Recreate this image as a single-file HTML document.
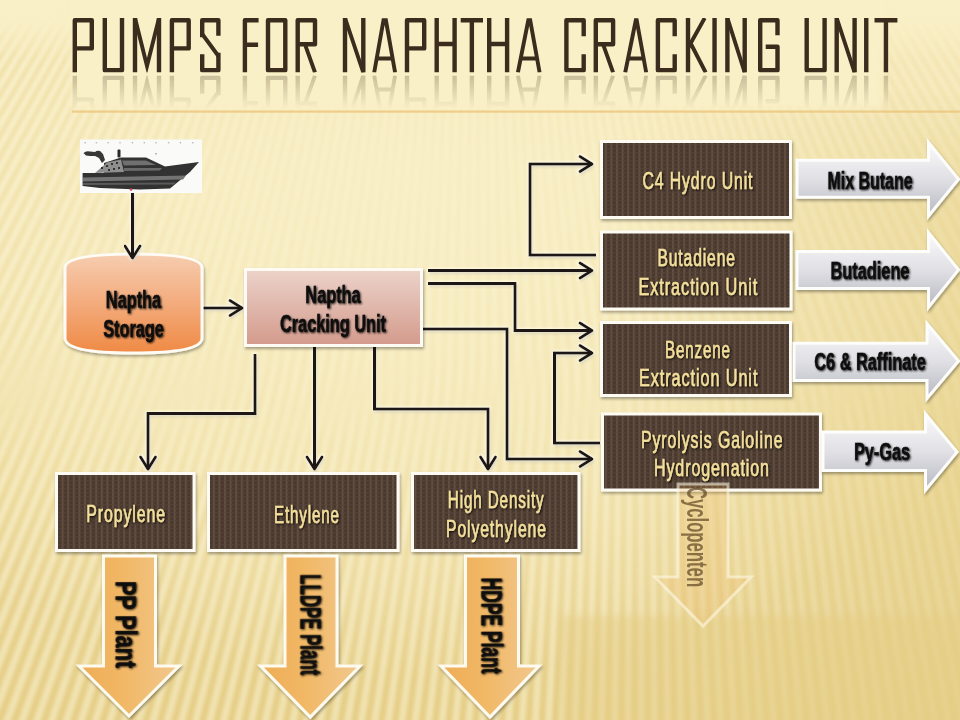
<!DOCTYPE html>
<html><head><meta charset="utf-8"><style>
html,body{margin:0;padding:0;width:960px;height:720px;overflow:hidden}
body{position:relative;background:#f3e4b0}
#bg{position:absolute;left:0;top:0;width:960px;height:720px;background:linear-gradient(to bottom, #f8ecbf 0px, #f3e4b0 250px, #eedc9f 450px, #ead697 600px, #e8d28e 720px)}
#rays{position:absolute;left:-10px;top:-10px;width:980px;height:740px;filter:blur(1.8px);
background:repeating-conic-gradient(from 0deg at 490px -690px, rgba(255,252,230,0.5) 0deg, rgba(205,165,55,0.18) 0.31deg, rgba(255,252,230,0.5) 0.62deg);
-webkit-mask-image:linear-gradient(to bottom, #000 0px, #000 340px, transparent 470px);mask-image:linear-gradient(to bottom, #000 0px, #000 340px, transparent 470px)}
#rays2{position:absolute;left:-10px;top:-10px;width:980px;height:740px;filter:blur(1.8px);
background:repeating-conic-gradient(from 0deg at 650px -990px, rgba(255,252,230,0.5) 0deg, rgba(205,165,55,0.18) 0.22deg, rgba(255,252,230,0.5) 0.44deg);
-webkit-mask-image:linear-gradient(to bottom, transparent 340px, #000 470px);mask-image:linear-gradient(to bottom, transparent 340px, #000 470px)}
#raysw{position:absolute;left:0;top:0;width:960px;height:720px;overflow:hidden;-webkit-mask-image:linear-gradient(to right, #000 0px, #000 560px, rgba(0,0,0,0.5) 900px);mask-image:linear-gradient(to right, #000 0px, #000 560px, rgba(0,0,0,0.5) 900px)}
#light{position:absolute;left:0;top:0;width:960px;height:720px;background:
radial-gradient(ellipse 600px 360px at 400px 320px, rgba(250,241,202,0.7) 0%, rgba(250,241,202,0.5) 50%, rgba(250,241,202,0) 100%),
radial-gradient(ellipse 420px 190px at 420px 170px, rgba(250,240,199,0.6) 0%, rgba(250,240,199,0.35) 50%, rgba(250,240,199,0) 100%),
linear-gradient(to bottom, rgba(250,240,199,1) 0px, rgba(250,240,199,0.9) 20px, rgba(250,240,199,0) 60px)}
#rdark{position:absolute;left:0;top:0;width:960px;height:720px;background:linear-gradient(to right, rgba(226,202,125,0) 620px, rgba(226,202,125,0.35) 960px);
-webkit-mask-image:linear-gradient(to bottom, transparent 90px, #000 200px);mask-image:linear-gradient(to bottom, transparent 90px, #000 200px)}
#bot{position:absolute;left:560px;top:616px;width:420px;height:120px;background:rgba(228,204,130,0.45);filter:blur(3px)}
#tbox{position:absolute;left:72px;top:-40px;width:812px;height:150px;background:rgba(250,240,199,0.97);filter:blur(5px)}
svg{position:absolute;left:0;top:0}
text{font-family:"Liberation Sans",sans-serif;font-weight:bold;font-size:24px;text-anchor:middle}
.yt text{fill:#f4e09c;font-weight:normal;stroke:#f4e09c;stroke-width:0.55px}
.bk text{fill:#0a0a0a;stroke:#0a0a0a;stroke-width:0.35px}
.cy{fill:#5e4522}
.rt{font-size:28.8px}
</style></head><body><div id="bg"></div><div id="raysw"><div id="rays"></div><div id="rays2"></div></div><div id="light"></div><div id="rdark"></div><div id="tbox"></div><div id="bot"></div>
<svg width="960" height="720" viewBox="0 0 960 720">
<defs><filter id="lsh" x="-5%" y="-5%" width="115%" height="115%">
<feMorphology in="SourceAlpha" operator="dilate" radius="1.2" result="d"/>
<feGaussianBlur in="d" stdDeviation="1" result="db"/>
<feFlood flood-color="#fffdf0" flood-opacity="0.75"/><feComposite in2="db" operator="in" result="glow"/>
<feGaussianBlur in="SourceAlpha" stdDeviation="1.2"/><feOffset dx="1" dy="2"/>
<feComponentTransfer result="sh"><feFuncA type="linear" slope="0.22"/></feComponentTransfer>
<feMerge><feMergeNode in="glow"/><feMergeNode in="sh"/><feMergeNode in="SourceGraphic"/></feMerge></filter></defs>
<defs>
<filter id="sblur" x="-5%" y="-10%" width="110%" height="120%"><feGaussianBlur stdDeviation="0.55"/></filter>
<clipPath id="tclip"><rect x="0" y="18" width="960" height="54.5"/></clipPath>
<pattern id="tex" width="5.6" height="4" patternUnits="userSpaceOnUse">
<rect width="5.6" height="4" fill="#4a382d"/>
<rect x="0" y="0" width="2" height="4" fill="#634f41"/>
<rect x="0" y="0" width="5.6" height="1.2" fill="#56443a" opacity="0.7"/>
</pattern>
<linearGradient id="stor" x1="0" y1="0" x2="0" y2="1">
<stop offset="0" stop-color="#f6cdb0"/><stop offset="0.5" stop-color="#f3ab7c"/><stop offset="1" stop-color="#ef8a45"/>
</linearGradient>
<linearGradient id="crk" x1="0" y1="0" x2="0" y2="1">
<stop offset="0" stop-color="#ecd3ca"/><stop offset="1" stop-color="#d39a8b"/>
</linearGradient>
<linearGradient id="grey" x1="0" y1="0" x2="0" y2="1">
<stop offset="0" stop-color="#fbfbfb"/><stop offset="0.5" stop-color="#e0e0e5"/><stop offset="1" stop-color="#b8b8c2"/>
</linearGradient>
<linearGradient id="orng" x1="0" y1="0" x2="1" y2="0">
<stop offset="0" stop-color="#efac55"/><stop offset="0.45" stop-color="#f1b866"/><stop offset="1" stop-color="#f2c88e"/>
</linearGradient>
<linearGradient id="refl" x1="0" y1="0" x2="0" y2="1">
<stop offset="0" stop-color="#fff" stop-opacity="0.34"/><stop offset="0.5" stop-color="#fff" stop-opacity="0.17"/><stop offset="1" stop-color="#fff" stop-opacity="0"/>
</linearGradient>
<mask id="reflmask" maskUnits="userSpaceOnUse" x="0" y="70" width="960" height="40">
<rect x="0" y="75" width="960" height="34" fill="url(#refl)"/>
</mask>
<filter id="sh" x="-10%" y="-10%" width="125%" height="130%">
<feGaussianBlur in="SourceAlpha" stdDeviation="1.5"/>
<feOffset dx="1" dy="2" result="b"/>
<feComponentTransfer><feFuncA type="linear" slope="0.35"/></feComponentTransfer>
<feMerge><feMergeNode/><feMergeNode in="SourceGraphic"/></feMerge>
</filter>
<filter id="tsh" x="-10%" y="-20%" width="130%" height="150%">
<feGaussianBlur in="SourceAlpha" stdDeviation="0.8"/>
<feOffset dx="1" dy="1.2"/>
<feComponentTransfer><feFuncA type="linear" slope="0.9"/></feComponentTransfer>
<feMerge><feMergeNode/><feMergeNode in="SourceGraphic"/></feMerge>
</filter>
</defs>
<g mask="url(#reflmask)"><g transform="translate(0 148) scale(1 -1)" stroke="#6a5a40"><g clip-path="url(#tclip)"><path d="M74.8 70.2V20.3H91.8V48.4H74.8M104.8 20.3V70.2H122V20.3M135 70.2V20.3M159 70.2V20.3M171.9 70.2V20.3H188.7V48.4H171.9M218.4 33.5V20.3H202.2V35M218.4 55V70.2H202.2V56.5M244.9 70.2V20.3H256.4M244.9 44.7H255.9M268 20.3H285.3V70.2H268ZM297.7 70.2V20.3H315V44.2H297.7M345 70.2V20.3M363.3 70.2V20.3M407 70.2V20.3H424.2V48.4H407M436.7 20.3V70.2M454.6 20.3V70.2M436.7 44H454.6M462.9 20.3H480.8M471.85 20.3V70.2M489.2 20.3V70.2M507.1 20.3V70.2M489.2 44H507.1M583.7 34V20.3H566.4V70.2H583.7V56.5M595.8 70.2V20.3H613.1V44.2H595.8M674.7 34V20.3H657.9V70.2H674.7V56.5M688 20.3V70.2M714.55 20.3V70.2M727.4 70.2V20.3M744.7 70.2V20.3M777.5 33V20.3H760.2V70.2H777.5V46.8H767.9M806.7 20.3V70.2H824.6V20.3M836.7 70.2V20.3M854.6 70.2V20.3M866.25 20.3V70.2M876.7 20.3H895.2M885.95 20.3V70.2" fill="none" stroke-width="4.4" stroke-linecap="square" stroke-linejoin="round"/><path d="M135 18L147 66L159 18M202.2 34L218.4 56M304.9 44.2L315 72.5M345 18L363.3 72.5M374.2 72.5L383.5 20.3H385.9L395.1 72.5M376.9 58.5H392.4M517.9 72.5L528.3 20.3H530.2L539.6 72.5M520.6 58.5H536.9M603 44.2L613.1 72.5M625.2 72.5L635.8 20.3H636.7L646.2 72.5M627.9 58.5H643.5M704.7 18L688 48M691 44L705.7 72.5M727.4 18L744.7 72.5M836.7 18L854.6 72.5" fill="none" stroke-width="3.9" stroke-linecap="butt" stroke-linejoin="miter" stroke-miterlimit="10"/></g></g></g>
<g stroke="#3b2c1e"><g clip-path="url(#tclip)"><path d="M74.8 70.2V20.3H91.8V48.4H74.8M104.8 20.3V70.2H122V20.3M135 70.2V20.3M159 70.2V20.3M171.9 70.2V20.3H188.7V48.4H171.9M218.4 33.5V20.3H202.2V35M218.4 55V70.2H202.2V56.5M244.9 70.2V20.3H256.4M244.9 44.7H255.9M268 20.3H285.3V70.2H268ZM297.7 70.2V20.3H315V44.2H297.7M345 70.2V20.3M363.3 70.2V20.3M407 70.2V20.3H424.2V48.4H407M436.7 20.3V70.2M454.6 20.3V70.2M436.7 44H454.6M462.9 20.3H480.8M471.85 20.3V70.2M489.2 20.3V70.2M507.1 20.3V70.2M489.2 44H507.1M583.7 34V20.3H566.4V70.2H583.7V56.5M595.8 70.2V20.3H613.1V44.2H595.8M674.7 34V20.3H657.9V70.2H674.7V56.5M688 20.3V70.2M714.55 20.3V70.2M727.4 70.2V20.3M744.7 70.2V20.3M777.5 33V20.3H760.2V70.2H777.5V46.8H767.9M806.7 20.3V70.2H824.6V20.3M836.7 70.2V20.3M854.6 70.2V20.3M866.25 20.3V70.2M876.7 20.3H895.2M885.95 20.3V70.2" fill="none" stroke-width="4.4" stroke-linecap="square" stroke-linejoin="round"/><path d="M135 18L147 66L159 18M202.2 34L218.4 56M304.9 44.2L315 72.5M345 18L363.3 72.5M374.2 72.5L383.5 20.3H385.9L395.1 72.5M376.9 58.5H392.4M517.9 72.5L528.3 20.3H530.2L539.6 72.5M520.6 58.5H536.9M603 44.2L613.1 72.5M625.2 72.5L635.8 20.3H636.7L646.2 72.5M627.9 58.5H643.5M704.7 18L688 48M691 44L705.7 72.5M727.4 18L744.7 72.5M836.7 18L854.6 72.5" fill="none" stroke-width="3.9" stroke-linecap="butt" stroke-linejoin="miter" stroke-miterlimit="10"/></g></g>
<rect x="72" y="110.5" width="888" height="2.2" fill="#ebc47c" opacity="0.8"/>
<g>
<rect x="80" y="139.5" width="122" height="53.5" fill="#fafaf8"/>
<g filter="url(#sblur)">
<g fill="#b8b8b8"><rect x="84.5" y="142" width="1.4" height="1.4"/><rect x="95.7" y="142" width="1.4" height="1.4"/><rect x="107.5" y="142" width="1.4" height="1.4"/><rect x="119.3" y="142" width="1.4" height="1.4"/><rect x="131.8" y="142" width="1.4" height="1.4"/><rect x="143.60000000000002" y="142" width="1.4" height="1.4"/><rect x="155.3" y="142" width="1.4" height="1.4"/><rect x="167.9" y="142" width="1.4" height="1.4"/><rect x="179.70000000000002" y="142" width="1.4" height="1.4"/><rect x="192.10000000000002" y="142" width="1.4" height="1.4"/><rect x="155" y="153" width="2" height="1.5"/></g>
<path d="M82.6 173 L104 173 L104 163 L121 157.5 L146 157.5 L165 166.5 L199 162 L190 172 L170 188.5 L140 189.5 L100 188 L82.6 186 Z" fill="#303030"/>
<path d="M83 177.5 L186 175.5 L183 179.5 L83 181.5 Z" fill="#737373"/>
<path d="M83 183 L176 182.5 L174 184.5 L83 185 Z" fill="#5a5a5a"/>
<path d="M95 173 L107 162.5 L121 159.5 L124 172 Z" fill="#8e8e8e"/>
<g fill="#303030"><rect x="101" y="167" width="2" height="2"/><rect x="106" y="165" width="2" height="2"/><rect x="111" y="163" width="2" height="2"/><rect x="116" y="162" width="2" height="2"/><rect x="108" y="169" width="2" height="2"/><rect x="113" y="168" width="2" height="2"/><rect x="118" y="167" width="2" height="2"/></g>
<path d="M122 160.5 L146 160.5 L156 165 L124 165.5 Z" fill="#707070"/>
<path d="M124 168 L162 168 L160 170.5 L124 171 Z" fill="#6a6a6a"/>
<path d="M83.5 153 Q86 150.5 90 151.5 L95 152 Q97 150 100 151 L103 154 L105 160 L102 163 L99 158 L95 156 L90 156 L86 155.5 Z" fill="#383838"/>
<rect x="117.5" y="149.5" width="3" height="8" rx="1" fill="#2a2a2a"/>
<circle cx="131" cy="189.5" r="1.3" fill="#d04060"/>
</g></g>
<g filter="url(#lsh)"><path d="M203 308 L242 308" fill="none" stroke="#1c1612" stroke-width="3" stroke-linejoin="miter"/><path d="M230 300.5 L242 308 L230 315.5" fill="none" stroke="#1c1612" stroke-width="3" stroke-linecap="round" stroke-linejoin="round"/><path d="M596 255 L530 255 L530 164 L592 164" fill="none" stroke="#1c1612" stroke-width="3" stroke-linejoin="miter"/><path d="M580 156.5 L592 164 L580 171.5" fill="none" stroke="#1c1612" stroke-width="3" stroke-linecap="round" stroke-linejoin="round"/><path d="M428 270.5 L592 270.5" fill="none" stroke="#1c1612" stroke-width="3" stroke-linejoin="miter"/><path d="M580 263.0 L592 270.5 L580 278.0" fill="none" stroke="#1c1612" stroke-width="3" stroke-linecap="round" stroke-linejoin="round"/><path d="M428 283.5 L515 283.5 L515 330.5 L592 330.5" fill="none" stroke="#1c1612" stroke-width="3" stroke-linejoin="miter"/><path d="M580 323.0 L592 330.5 L580 338.0" fill="none" stroke="#1c1612" stroke-width="3" stroke-linecap="round" stroke-linejoin="round"/><path d="M422 329 L507 329 L507 459 L592 459" fill="none" stroke="#1c1612" stroke-width="3" stroke-linejoin="miter"/><path d="M580 451.5 L592 459 L580 466.5" fill="none" stroke="#1c1612" stroke-width="3" stroke-linecap="round" stroke-linejoin="round"/><path d="M600 443 L554.5 443 L554.5 353 L592 353" fill="none" stroke="#1c1612" stroke-width="3" stroke-linejoin="miter"/><path d="M580 345.5 L592 353 L580 360.5" fill="none" stroke="#1c1612" stroke-width="3" stroke-linecap="round" stroke-linejoin="round"/><path d="M255 354 L255 413.5 L148 413.5 L148 469" fill="none" stroke="#1c1612" stroke-width="3" stroke-linejoin="miter"/><path d="M140.5 457 L148 469 L155.5 457" fill="none" stroke="#1c1612" stroke-width="3" stroke-linecap="round" stroke-linejoin="round"/><path d="M314.5 346 L314.5 469" fill="none" stroke="#1c1612" stroke-width="3" stroke-linejoin="miter"/><path d="M307.0 457 L314.5 469 L322.0 457" fill="none" stroke="#1c1612" stroke-width="3" stroke-linecap="round" stroke-linejoin="round"/><path d="M374.5 346 L374.5 409 L488 409 L488 469" fill="none" stroke="#1c1612" stroke-width="3" stroke-linejoin="miter"/><path d="M480.5 457 L488 469 L495.5 457" fill="none" stroke="#1c1612" stroke-width="3" stroke-linecap="round" stroke-linejoin="round"/></g>
<path d="M65 268 Q65 254 133 254 Q202 254 202 268 L202 338 Q202 353 133 353 Q65 353 65 338 Z" fill="url(#stor)" stroke="#fdfbf3" stroke-width="3" filter="url(#sh)"/>
<g filter="url(#lsh)"><path d="M132.5 193 L132.5 258" fill="none" stroke="#1c1612" stroke-width="3" stroke-linejoin="miter"/><path d="M125.0 246 L132.5 258 L140.0 246" fill="none" stroke="#1c1612" stroke-width="3" stroke-linecap="round" stroke-linejoin="round"/></g>
<rect x="245.5" y="269.5" width="176" height="76" fill="url(#crk)" stroke="#fdfbf3" stroke-width="3" filter="url(#sh)"/>
<rect x="601.5" y="141.5" width="189" height="76" fill="url(#tex)" stroke="#fdfbf3" stroke-width="3" filter="url(#sh)"/>
<rect x="601.5" y="232.0" width="189.5" height="77.0" fill="url(#tex)" stroke="#fdfbf3" stroke-width="3" filter="url(#sh)"/>
<rect x="601.5" y="322.5" width="189" height="73" fill="url(#tex)" stroke="#fdfbf3" stroke-width="3" filter="url(#sh)"/>
<rect x="602.5" y="414.0" width="218" height="76.0" fill="url(#tex)" stroke="#fdfbf3" stroke-width="3" filter="url(#sh)"/>
<rect x="56.5" y="473.5" width="137.5" height="77" fill="url(#tex)" stroke="#fdfbf3" stroke-width="3" filter="url(#sh)"/>
<rect x="208.5" y="473.5" width="189.5" height="77" fill="url(#tex)" stroke="#fdfbf3" stroke-width="3" filter="url(#sh)"/>
<rect x="412.5" y="473.5" width="166.5" height="77" fill="url(#tex)" stroke="#fdfbf3" stroke-width="3" filter="url(#sh)"/>
<polygon points="797,160.2 928.5,160.2 928.5,142.5 958.5,179.25 928.5,216 928.5,197.3 797,197.3" fill="url(#grey)" stroke="#fdfdfb" stroke-width="3" stroke-linejoin="miter" filter="url(#sh)"/>
<polygon points="797,251.5 928.5,251.5 928.5,232.5 958.5,269.85 928.5,307.2 928.5,288.5 797,288.5" fill="url(#grey)" stroke="#fdfdfb" stroke-width="3" stroke-linejoin="miter" filter="url(#sh)"/>
<polygon points="794,343.2 927,343.2 927,323.5 958.5,361.0 927,398.5 927,380.5 794,380.5" fill="url(#grey)" stroke="#fdfdfb" stroke-width="3" stroke-linejoin="miter" filter="url(#sh)"/>
<polygon points="823,432 925.5,432 925.5,414 957,452.1 925.5,490.2 925.5,470.5 823,470.5" fill="url(#grey)" stroke="#fdfdfb" stroke-width="3" stroke-linejoin="miter" filter="url(#sh)"/>
<polygon points="103.5,556 155.5,556 155.5,666 179,666 129.0,716 79,666 103.5,666" fill="url(#orng)" stroke="#fdfbf0" stroke-width="3" stroke-linejoin="miter" filter="url(#sh)"/>
<polygon points="285,556 337,556 337,666 360,666 310.25,717 260.5,666 285,666" fill="url(#orng)" stroke="#fdfbf0" stroke-width="3" stroke-linejoin="miter" filter="url(#sh)"/>
<polygon points="465.5,556 518.5,556 518.5,666 539,666 490.0,717 441,666 465.5,666" fill="url(#orng)" stroke="#fdfbf0" stroke-width="3" stroke-linejoin="miter" filter="url(#sh)"/>
<polygon points="678,484 728,484 728,577 751,577 703.0,626 655,577 678,577" fill="rgba(238,178,90,0.22)" stroke="rgba(255,252,235,0.55)" stroke-width="3" stroke-linejoin="miter" />
<g class="yt" filter="url(#tsh)"><text class="y" transform="translate(642.40 189) scale(0.6573 1)" x="-0.00" y="0" style="text-anchor:start;letter-spacing:1.4px">C4 Hydro Unit</text>
<text class="y" transform="translate(657.50 266) scale(0.6496 1)" x="-0.00" y="0" style="text-anchor:start;letter-spacing:1.4px">Butadiene</text>
<text class="y" transform="translate(638.50 294.5) scale(0.6762 1)" x="-0.00" y="0" style="text-anchor:start;letter-spacing:1.4px">Extraction Unit</text>
<text class="y" transform="translate(665.00 357.5) scale(0.6298 1)" x="-0.00" y="0" style="text-anchor:start;letter-spacing:1.4px">Benzene</text>
<text class="y" transform="translate(639.00 386) scale(0.6744 1)" x="-0.00" y="0" style="text-anchor:start;letter-spacing:1.4px">Extraction Unit</text>
<text class="y" transform="translate(641.00 447.5) scale(0.6597 1)" x="-0.00" y="0" style="text-anchor:start;letter-spacing:1.4px">Pyrolysis Galoline</text>
<text class="y" transform="translate(654.00 475.5) scale(0.6651 1)" x="-0.00" y="0" style="text-anchor:start;letter-spacing:1.4px">Hydrogenation</text>
<text class="y" transform="translate(86.25 521.5) scale(0.6601 1)" x="-0.00" y="0" style="text-anchor:start;letter-spacing:1.4px">Propylene</text>
<text class="y" transform="translate(274.00 522.5) scale(0.6298 1)" x="-0.00" y="0" style="text-anchor:start;letter-spacing:1.4px">Ethylene</text>
<text class="y" transform="translate(447.80 507.5) scale(0.6333 1)" x="-0.00" y="0" style="text-anchor:start;letter-spacing:1.4px">High Density</text>
<text class="y" transform="translate(446.00 536.5) scale(0.6545 1)" x="-0.00" y="0" style="text-anchor:start;letter-spacing:1.4px">Polyethylene</text></g>
<g class="bk" filter="url(#tsh)"><text class="b" transform="translate(133.5 307.5) scale(0.68 1)" x="0" y="0">Naptha</text>
<text class="b" transform="translate(133.5 337) scale(0.68 1)" x="0" y="0">Storage</text>
<text class="b" transform="translate(333 303) scale(0.68 1)" x="0" y="0">Naptha</text>
<text class="b" transform="translate(333 332) scale(0.68 1)" x="0" y="0">Cracking Unit</text>
<text class="b" transform="translate(870 188.5) scale(0.665 1)" x="0" y="0">Mix Butane</text>
<text class="b" transform="translate(870 279) scale(0.68 1)" x="0" y="0">Butadiene</text>
<text class="b" transform="translate(870 370) scale(0.68 1)" x="0" y="0">C6 &amp; Raffinate</text>
<text class="b" transform="translate(882 459.5) scale(0.68 1)" x="0" y="0">Py-Gas</text>
<text class="b rt" transform="translate(126.7 624.3) rotate(90) scale(0.75 1)" x="0" y="0" dy="0.364em">PP Plant</text>
<text class="b rt" transform="translate(310.5 624.6) rotate(90) scale(0.584 1)" x="0" y="0" dy="0.364em">LLDPE Plant</text>
<text class="b rt" transform="translate(491.5 625.5) rotate(90) scale(0.606 1)" x="0" y="0" dy="0.364em">HDPE Plant</text></g>
<g opacity="0.7"><text class="cy rt" transform="translate(697.5 537) rotate(90) scale(0.58 1)" x="0" y="0" dy="0.364em">Cyclopenten</text></g>
</svg></body></html>
